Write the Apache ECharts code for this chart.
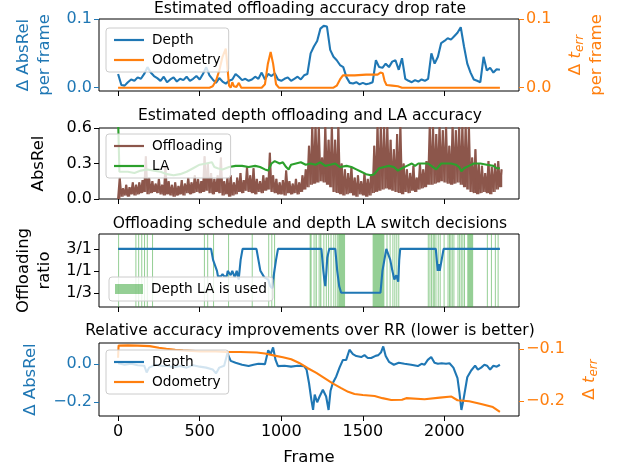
<!DOCTYPE html>
<html>
<head>
<meta charset="utf-8">
<script src="https://cdn.jsdelivr.net/npm/echarts@6/dist/echarts.min.js"></script>
<style>
  html, body { margin: 0; padding: 0; background: #fff; }
  #chart { width: 620px; height: 469px; }
</style>
</head>
<body>
<div id="chart"></div>
<script>
// ---- data ----
const FRAME_STEP = 20; // frames between samples of the per-frame series

// panel 1: estimated accuracy drop rate (depth), one value every 20 frames
const depthDrop = [
  0.02, 0.004, 0.003, 0.008, 0.012, 0.01,
  0.015, 0.013, 0.02, 0.03, 0.022, 0.017, 0.014, 0.01, 0.016, 0.008,
  0.012, 0.015, 0.009, 0.013, 0.011, 0.016, 0.01, 0.013, 0.017, 0.012,
  0.02, 0.03, 0.018, 0.012, 0.007, 0.014, 0.009, 0.006, 0.01, 0.012,
  0.02, 0.016, 0.011, 0.013, 0.01, 0.012, 0.016, 0.013, 0.022, 0.012,
  0.02, 0.017, 0.021, 0.012, 0.01, 0.013, 0.015, 0.01, 0.013, 0.016,
  0.012, 0.018, 0.02, 0.05, 0.06, 0.068, 0.086, 0.09, 0.089, 0.055,
  0.045, 0.04, 0.033, 0.03, 0.015, 0.007, 0.006, 0.008, 0.005, 0.007,
  0.005, 0.006, 0.008, 0.04, 0.03, 0.029, 0.035, 0.03, 0.038, 0.04,
  0.026, 0.043, 0.013, 0.01, 0.008, 0.011, 0.009, 0.012, 0.01, 0.013,
  0.05, 0.035, 0.045, 0.065, 0.068, 0.072, 0.07, 0.075, 0.08, 0.088,
  0.06, 0.035, 0.022, 0.012, 0.01, 0.008, 0.045, 0.025, 0.029, 0.022,
  0.027, 0.026
];
// panel 1: odometry drop rate
const odoDropFrames = [0, 560, 580, 600, 620, 640, 660, 670, 680, 690, 700, 710, 725, 740, 755,
  880, 900, 918, 935, 950, 968, 985, 1320, 1340, 1360, 1378, 1450, 1520, 1590, 1608, 1622,
  1633, 1645, 1680, 1715, 1740, 2340];
const odoDropValues = [0, 0, 0.002, 0.01, 0.025, 0.045, 0.057, 0.03, 0.003, 0.0, 0.008, 0.002, 0.001, 0.007, 0.0,
  0, 0.005, 0.035, 0.052, 0.035, 0.005, 0.0, 0, 0.003, 0.012, 0.018, 0.018, 0.019, 0.019, 0.022, 0.021,
  0.01, 0.004, 0.003, 0.002, 0.0, 0];

// panel 2: offloading AbsRel, low / high envelope every 20 frames
const offLow = [
  0.0, 0.02, 0.03, 0.02, 0.04, 0.03,
  0.04, 0.05, 0.06, 0.04, 0.05, 0.06, 0.05, 0.04, 0.03, 0.04,
  0.03, 0.02, 0.03, 0.04, 0.03, 0.05, 0.04, 0.05, 0.06, 0.05,
  0.06, 0.07, 0.05, 0.04, 0.06, 0.05, 0.03, 0.04, 0.02, 0.03,
  0.04, 0.06, 0.05, 0.07, 0.06, 0.05, 0.04, 0.06, 0.05, 0.07,
  0.08, 0.06, 0.05, 0.04, 0.04, 0.03, 0.05, 0.04, 0.05, 0.04,
  0.06, 0.08, 0.1, 0.12, 0.13, 0.14, 0.15, 0.14, 0.12, 0.1,
  0.06, 0.05, 0.04, 0.03, 0.04, 0.05, 0.03, 0.02, 0.04, 0.03,
  0.02, 0.03, 0.05, 0.06, 0.07, 0.08, 0.09, 0.08, 0.07, 0.06,
  0.05, 0.04, 0.06, 0.05, 0.07, 0.06, 0.08, 0.09, 0.1, 0.12,
  0.12, 0.13, 0.14, 0.15, 0.14, 0.13, 0.12, 0.13, 0.14, 0.12,
  0.1, 0.08, 0.06, 0.05, 0.04, 0.05, 0.06, 0.05, 0.04, 0.06,
  0.08, 0.1
];
const offHigh = [
  0.18, 0.09, 0.12, 0.1, 0.14, 0.12,
  0.14, 0.16, 0.36, 0.18, 0.15, 0.13, 0.17, 0.12, 0.27, 0.15,
  0.12, 0.14, 0.11, 0.16, 0.13, 0.18, 0.14, 0.2, 0.17, 0.15,
  0.36, 0.3, 0.22, 0.17, 0.2, 0.35, 0.15, 0.18, 0.2, 0.14,
  0.18, 0.22, 0.16, 0.27, 0.2, 0.26, 0.17, 0.15, 0.2, 0.18,
  0.39, 0.2, 0.17, 0.14, 0.16, 0.24, 0.15, 0.13, 0.17, 0.14,
  0.2, 0.25, 0.45, 0.62, 0.62, 0.62, 0.35, 0.62, 0.5, 0.62,
  0.5, 0.62, 0.3, 0.25, 0.22, 0.27, 0.18, 0.2, 0.15, 0.22,
  0.17, 0.2, 0.45, 0.62, 0.62, 0.62, 0.62, 0.5, 0.42, 0.55,
  0.62, 0.3, 0.25, 0.22, 0.28, 0.18, 0.3, 0.25, 0.32, 0.62,
  0.62, 0.55, 0.62, 0.58, 0.62, 0.45, 0.62, 0.58, 0.62, 0.62,
  0.62, 0.62, 0.35, 0.42, 0.3, 0.28, 0.22, 0.32, 0.27, 0.3,
  0.32, 0.25
];
// panel 2: LA AbsRel
const laFrames = [0, 8, 60, 100, 140, 180, 220, 260, 300, 340, 380, 420, 460, 500, 540, 575, 590, 610, 640,
  680, 720, 760, 800, 840, 870, 900, 920, 940, 960, 990, 1010, 1030, 1045, 1060, 1090, 1120, 1150, 1180,
  1210, 1240, 1270, 1300, 1330, 1360, 1400, 1430, 1460, 1490, 1520, 1550, 1570, 1600, 1630, 1660, 1690,
  1715, 1740, 1770, 1800, 1820, 1840, 1870, 1900, 1930, 1950, 1980, 2010, 2040, 2070, 2090, 2104, 2120,
  2150, 2180, 2220, 2260, 2300, 2320, 2340];
const laValues = [0.68, 0.23, 0.23, 0.22, 0.24, 0.25, 0.24, 0.23, 0.21, 0.2, 0.21, 0.23, 0.26, 0.29, 0.3, 0.31, 0.27, 0.26, 0.25,
  0.27, 0.28, 0.28, 0.27, 0.28, 0.27, 0.25, 0.24, 0.3, 0.32, 0.3, 0.31, 0.27, 0.25, 0.29, 0.3, 0.31, 0.29, 0.3,
  0.29, 0.31, 0.28, 0.29, 0.3, 0.27, 0.28, 0.27, 0.25, 0.23, 0.21, 0.2, 0.21, 0.26, 0.27, 0.28, 0.27,
  0.24, 0.26, 0.28, 0.3, 0.28, 0.3, 0.3, 0.3, 0.27, 0.25, 0.3, 0.3, 0.3, 0.29, 0.27, 0.235, 0.26,
  0.28, 0.3, 0.3, 0.29, 0.28, 0.26, 0.26];

// panel 3: offloading ratio (0 = 1/3, 1 = 1/1, 2 = 3/1)
const ratioLabels = ['1/3', '1/1', '3/1'];
const ratioFrames = [0, 570, 582, 594, 606, 612, 630, 640, 650, 666, 672, 690, 700, 715, 727, 739, 751, 763,
  848, 860, 872, 884, 896, 908, 920, 932, 944, 956, 968, 980, 1246, 1252, 1258, 1264, 1270, 1276, 1282,
  1294, 1331, 1343, 1355, 1367, 1608, 1614, 1620, 1632, 1644, 1656, 1668, 1681, 1693, 1705, 1717, 1723,
  1729, 1947, 1953, 1959, 1965, 1971, 1983, 1995, 2340];
const ratioValues = [2, 2, 1.5, 1.5, 1.0, 0.75, 0.75, 0.85, 0.75, 0.75, 1.0, 0.8, 1.0, 0.7, 1.0, 0.6, 1.5, 2,
  2, 1.5, 1.0, 1.0, 0.7, 0.7, 0.6, 0.3, 0.2, 0.9, 1.5, 2, 2, 1.5, 1.0, 0.6, 0.3, 0.9, 1.6,
  2, 2, 1.0, 0.3, 0, 0, 0.5, 1.0, 1.5, 2, 2, 1.5, 1.0, 0.6, 0.8, 0.5, 1.5,
  2, 2, 1.5, 1.0, 1.3, 1.0, 1.5, 2, 2];
// panel 3: frames where depth LA is used, [start, end]
const laUsed = [
  [0, 4], [106, 110], [123, 127], [142, 146], [159, 163], [176, 180], [208, 212], [526, 530], [546, 550],
  [582, 586], [674, 678], [819, 823], [920, 924], [939, 943], [956, 960],
  [1174, 1186], [1198, 1202], [1210, 1218], [1229, 1233], [1238, 1246], [1258, 1262], [1273, 1277],
  [1287, 1291], [1302, 1306], [1319, 1323], [1331, 1335], [1343, 1347], [1350, 1391],
  [1560, 1632], [1645, 1649], [1664, 1668], [1681, 1685], [1693, 1697], [1705, 1709], [1717, 1721],
  [1898, 1902], [1908, 1912], [1918, 1922], [1928, 1932], [1935, 1939], [1945, 1949], [1959, 1963],
  [1971, 1975], [1995, 1999], [2019, 2023], [2028, 2032], [2036, 2040], [2045, 2049], [2055, 2059],
  [2080, 2084], [2090, 2094], [2100, 2104], [2110, 2114], [2120, 2124], [2140, 2176],
  [2260, 2264], [2285, 2289], [2309, 2313], [2326, 2330]
];

// panel 4: relative improvements over RR
const relDepthFrames = [0, 40, 80, 120, 160, 175, 190, 230, 270, 300, 340, 380, 420, 460, 500, 540, 580, 600,
  620, 650, 670, 690, 720, 760, 800, 830, 860, 900, 920, 935, 950, 965, 980, 1020, 1060, 1100, 1140, 1155,
  1170, 1185, 1195, 1205, 1220, 1235, 1255, 1275, 1290, 1302, 1316, 1337, 1357, 1378, 1398, 1418, 1439,
  1460, 1490, 1510, 1530, 1551, 1575, 1595, 1612, 1625, 1640, 1660, 1690, 1720, 1755, 1796, 1837, 1860,
  1878, 1898, 1919, 1939, 1960, 1983, 2010, 2031, 2055, 2080, 2092, 2104, 2116, 2140, 2164, 2188, 2205,
  2225, 2245, 2261, 2280, 2300, 2321, 2340];
const relDepthValues = [0.003, -0.005, 0.0, -0.008, -0.01, -0.045, -0.02, -0.005, -0.012, -0.01, -0.018, -0.012, -0.02, -0.008, -0.015, -0.02, -0.03, -0.05,
  -0.02, -0.01, 0.055, 0.015, 0.005, -0.005, -0.012, -0.005, 0.0, -0.002, 0.07, 0.05, 0.085, 0.02, -0.012, -0.01, -0.015, -0.01, -0.012, -0.03,
  -0.1, -0.19, -0.24, -0.16, -0.2, -0.17, -0.135, -0.17, -0.24, -0.14, -0.1, -0.066, -0.02, 0.02, 0.02, 0.073, 0.05,
  0.04, 0.035, 0.045, 0.03, 0.03, 0.04, 0.045, 0.06, 0.09, 0.04, 0.01, -0.005, 0.005, 0.0, -0.005, -0.012, 0.0,
  -0.005, 0.02, 0.035, 0.005, 0.0, 0.003, 0.0, 0.003, -0.02, -0.075, -0.15, -0.24, -0.19, -0.07, -0.035, -0.01, -0.03,
  -0.02, -0.005, -0.01, -0.03, -0.01, -0.015, -0.005];
const relOdoFrames = [0, 3, 60, 120, 194, 250, 296, 350, 398, 450, 500, 550, 600, 663, 750, 850, 900, 959,
  1010, 1061, 1110, 1163, 1215, 1265, 1315, 1367, 1410, 1449, 1500, 1572, 1620, 1674, 1740, 1766, 1775,
  1878, 1972, 2043, 2080, 2152, 2225, 2297, 2340];
const relOdoValues = [-0.117, -0.094, -0.0935, -0.094, -0.095, -0.098, -0.1, -0.102, -0.103, -0.104, -0.105, -0.105, -0.105, -0.106, -0.106, -0.107, -0.109, -0.113,
  -0.116, -0.12, -0.127, -0.137, -0.146, -0.156, -0.166, -0.175, -0.182, -0.186, -0.188, -0.19, -0.194, -0.1975, -0.197, -0.194, -0.197,
  -0.196, -0.193, -0.191, -0.198, -0.2, -0.205, -0.211, -0.22];

// ---- helpers ----
const BLUE = '#1f77b4', ORANGE = '#ff7f0e', GREEN = '#2ca02c', BROWN = '#8c564b';
const FONT = 'DejaVu Sans';
const zip = (xs, ys) => xs.map((x, i) => [x, ys[i]]);
const stepped = (vals) => vals.map((v, i) => [i * FRAME_STEP, v]);
const zigzag = [];
const offBins = [];
offLow.forEach((lo, i) => {
  zigzag.push([i * FRAME_STEP, lo]);
  zigzag.push([i * FRAME_STEP + FRAME_STEP / 2, offHigh[i]]);
  offBins.push([i * FRAME_STEP + FRAME_STEP / 2, lo, offHigh[i]]);
});
const fmt1 = v => (v < 0 ? '\u2212' : '') + Math.abs(v).toFixed(1);

const X_MIN = -117, X_MAX = 2457;
const grids = [
  { left: 99, right: 101, top: 19, height: 72 },
  { left: 99, right: 101, top: 128, height: 71 },
  { left: 99, right: 101, top: 234, height: 73 },
  { left: 99, right: 101, top: 343, height: 73 }
].map(g => Object.assign(g, { show: true, borderColor: '#000', borderWidth: 1, backgroundColor: 'transparent' }));

function xAxisFor(i) {
  const last = i === 3;
  return {
    type: 'value', gridIndex: i, min: X_MIN, max: X_MAX, position: 'bottom',
    axisLine: { show: false, onZero: false }, splitLine: { show: false },
    axisTick: { show: true, length: 5, lineStyle: { color: '#000' }, customValues: [0, 500, 1000, 1500, 2000] },
    axisLabel: { show: last, customValues: [0, 500, 1000, 1500, 2000], margin: 8, fontSize: 16, color: '#000',
      fontFamily: FONT, formatter: v => String(v) },
    name: last ? 'Frame' : '', nameLocation: 'middle', nameGap: 33,
    nameTextStyle: { fontSize: 16.5, color: '#000', fontFamily: FONT }
  };
}

function yAxisFor(o) {
  return {
    type: 'value', gridIndex: o.grid, position: o.pos || 'left', min: o.min, max: o.max,
    axisLine: { show: false, onZero: false }, splitLine: { show: false },
    axisTick: { show: true, length: 5, lineStyle: { color: o.color }, customValues: o.ticks },
    axisLabel: { customValues: o.ticks, margin: 7, fontSize: 16, color: o.color, fontFamily: FONT, formatter: o.fmt || fmt1 },
    name: o.name, nameLocation: 'middle', nameRotate: 90, nameGap: o.gap,
    nameTextStyle: Object.assign({ fontSize: 16.5, color: o.color, fontFamily: FONT, lineHeight: 21 }, o.nameStyle || {})
  };
}

const terrRich = {
  n: { fontSize: 16.5, color: ORANGE, fontFamily: FONT, lineHeight: 21 },
  t: { fontSize: 16.5, color: ORANGE, fontFamily: FONT, fontStyle: 'italic', lineHeight: 21 },
  s: { fontSize: 12, color: ORANGE, fontFamily: FONT, fontStyle: 'italic', padding: [8, 0, 0, 0] }
};

const legendBase = {
  orient: 'vertical', padding: [5, 8], itemGap: 6, itemWidth: 30, itemHeight: 2.2,
  backgroundColor: 'rgba(255,255,255,0.8)', borderColor: '#cccccc', borderWidth: 1, borderRadius: 3,
  itemStyle: { borderWidth: 0 },
  textStyle: { fontSize: 13.7, lineHeight: 14, color: '#000', fontFamily: FONT, padding: [0, 0, 0, 3] },
  selectedMode: false
};
const lineItems = names => names.map(name => ({ name, icon: 'rect' }));

const titleBase = (text, top) => ({
  text, left: 'center', top, padding: 0,
  textStyle: { fontSize: 15.5, fontWeight: 'normal', color: '#000', fontFamily: FONT }
});

const lineSeries = (name, xi, yi, data, color, z) => ({
  name, type: 'line', xAxisIndex: xi, yAxisIndex: yi, data, showSymbol: false, symbol: 'none',
  lineStyle: { color, width: 2.1 }, itemStyle: { color }, animation: false, z: z || 2
});

const chart = echarts.init(document.getElementById('chart'), null, { renderer: 'canvas' });
chart.setOption({
  animation: false,
  backgroundColor: '#fff',
  textStyle: { fontFamily: FONT },
  title: [
    titleBase('Estimated offloading accuracy drop rate', 1),
    titleBase('Estimated depth offloading and LA accuracy', 108),
    titleBase('Offloading schedule and depth LA switch decisions', 216),
    titleBase('Relative accuracy improvements over RR (lower is better)', 323)
  ],
  grid: grids,
  xAxis: [0, 1, 2, 3].map(xAxisFor),
  yAxis: [
    yAxisFor({ grid: 0, min: -0.0048, max: 0.1, ticks: [0, 0.1], color: BLUE, gap: 44,
      name: 'Δ AbsRel\nper frame' }),
    yAxisFor({ grid: 0, pos: 'right', min: -0.0048, max: 0.1, ticks: [0, 0.1], color: ORANGE, gap: 46,
      name: '{n|Δ }{t|t}{s|err}\n{n|per frame}', nameStyle: { rich: terrRich } }),
    yAxisFor({ grid: 1, min: 0, max: 0.6, ticks: [0, 0.3, 0.6], color: '#000', gap: 50, name: 'AbsRel' }),
    yAxisFor({ grid: 2, min: -0.65, max: 2.68, ticks: [0, 1, 2], color: '#000', gap: 44,
      name: 'Offloading\nratio', fmt: v => ratioLabels[Math.round(v)] }),
    yAxisFor({ grid: 3, min: -0.2715, max: 0.108, ticks: [-0.2, 0], color: BLUE, gap: 58, name: 'Δ AbsRel' }),
    yAxisFor({ grid: 3, pos: 'right', min: -0.228, max: -0.089, ticks: [-0.2, -0.1], color: ORANGE, gap: 60,
      name: '{n|Δ }{t|t}{s|err}', nameStyle: { rich: terrRich } })
  ],
  legend: [
    Object.assign({}, legendBase, { data: lineItems(['Depth', 'Odometry']), left: 106, top: 28 }),
    Object.assign({}, legendBase, { data: lineItems(['Offloading', 'LA']), left: 106, top: 134 }),
    Object.assign({}, legendBase, { data: [{ name: 'Depth LA is used', icon: 'rect' }], left: 109, top: 277,
      itemWidth: 28, itemHeight: 10, padding: [5, 6] }),
    Object.assign({}, legendBase, { data: lineItems(['Depth', 'Odometry']), left: 106, top: 350 })
  ],
  series: [
    lineSeries('Depth', 0, 0, stepped(depthDrop), BLUE, 2),
    lineSeries('Odometry', 0, 1, zip(odoDropFrames, odoDropValues), ORANGE, 3),
    lineSeries('Offloading', 1, 2, zigzag, BROWN, 2),
    {
      // vertical strokes filling each 20-frame bin between its low and high reading
      name: 'offBins', type: 'custom', xAxisIndex: 1, yAxisIndex: 2, z: 2, clip: true,
      encode: { x: 0, y: [1, 2] },
      data: offBins,
      renderItem: (params, api) => {
        const p0 = api.coord([api.value(0), api.value(1)]);
        const p1 = api.coord([api.value(0), api.value(2)]);
        return {
          type: 'line',
          shape: { x1: p0[0], y1: p0[1], x2: p1[0], y2: p1[1] },
          style: { stroke: BROWN, lineWidth: 1.4 }
        };
      }
    },
    lineSeries('LA', 1, 2, zip(laFrames, laValues), GREEN, 3),
    {
      name: 'Depth LA is used', type: 'custom', xAxisIndex: 2, yAxisIndex: 3, z: 1,
      itemStyle: { color: 'rgba(44,160,44,0.5)' },
      encode: { x: [0, 1] },
      data: laUsed,
      renderItem: (params, api) => {
        const cs = params.coordSys;
        const x0 = api.coord([api.value(0), 0])[0];
        const x1 = api.coord([api.value(1), 0])[0];
        return {
          type: 'rect',
          shape: { x: x0, y: cs.y, width: Math.max(1, x1 - x0), height: cs.height },
          style: { fill: 'rgba(44,160,44,0.5)' }
        };
      }
    },
    lineSeries('ratio', 2, 3, zip(ratioFrames, ratioValues), BLUE, 3),
    lineSeries('Depth', 3, 4, zip(relDepthFrames, relDepthValues), BLUE, 2),
    lineSeries('Odometry', 3, 5, zip(relOdoFrames, relOdoValues), ORANGE, 3)
  ]
});
</script>
</body>
</html>
